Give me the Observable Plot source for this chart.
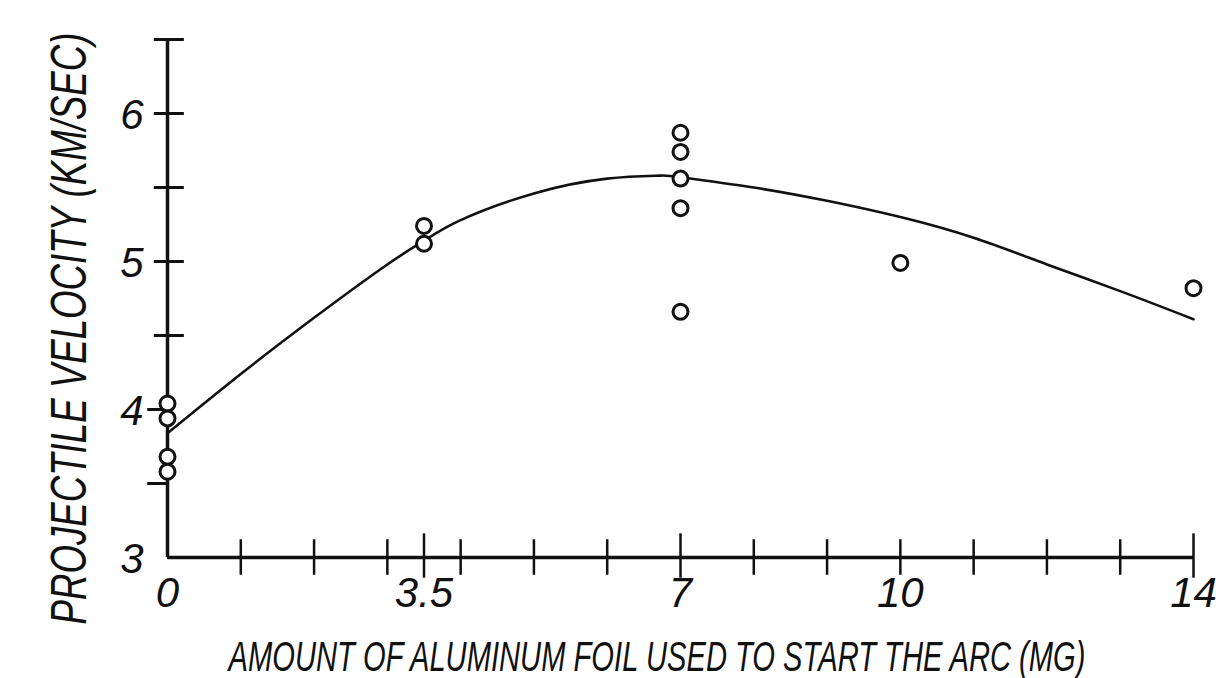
<!DOCTYPE html>
<html><head><meta charset="utf-8">
<script src="https://cdn.jsdelivr.net/npm/d3@7"></script>
<script src="https://cdn.jsdelivr.net/npm/@observablehq/plot@0.6"></script>
<style>html,body{margin:0;padding:0;background:#fff;overflow:hidden}</style>
</head><body><div id="chart"></div>
<script>
// Measured points
const foilMg   = [0, 0, 0, 0, 3.5, 3.5, 7, 7, 7, 7, 7, 10, 14];
const velocity = [4.04, 3.94, 3.68, 3.58, 5.24, 5.12, 5.87, 5.74, 5.56, 5.36, 4.66, 4.99, 4.82];
// Fitted curve
const curveX = [0, 1, 2, 3, 3.5, 4, 5, 6, 6.7, 7, 8, 9, 10, 11, 12, 13, 14];
const curveY = [3.84, 4.24, 4.62, 4.98, 5.14, 5.28, 5.46, 5.56, 5.58, 5.57, 5.5, 5.41, 5.3, 5.16, 4.98, 4.8, 4.61];
// Ticks
const xTicks = [1, 2, 3, 3.5, 4, 5, 6, 7, 8, 9, 10, 11, 12, 13, 14];
const xMajorTicks = [3.5, 7, 14];
const xTickLabels = ["0", "3.5", "7", "10", "14"];
const xTickLabelValues = [0, 3.5, 7, 10, 14];
const yTicks = [4.5, 5, 5.5, 6, 6.5];
const yLeftTicks = [3.5, 4];
const yTickLabels = ["3", "4", "5", "6"];
const yTickLabelValues = [3, 4, 5, 6];
const xTitle = "AMOUNT OF ALUMINUM FOIL USED TO START THE ARC (MG)";
const yTitle = "PROJECTILE VELOCITY (KM/SEC)";

const points = foilMg.map((x, i) => ({x, y: velocity[i]}));
const curve = curveX.map((x, i) => ({x, y: curveY[i]}));
const ink = "#111";
const font = "'Liberation Sans Narrow', 'Liberation Sans', sans-serif";

const chart = Plot.plot({
  width: 1219, height: 678,
  marginLeft: 167, marginRight: 26, marginTop: 39, marginBottom: 121,
  x: {domain: [0, 14], axis: null},
  y: {domain: [3, 6.5], axis: null},
  style: {background: "#fff", fontFamily: font},
  marks: [
    // axes lines
    Plot.ruleX([0], {x: d => d, y1: 3, y2: 6.5, stroke: ink, strokeWidth: 3.5}),
    Plot.ruleY([3], {y: d => d, x1: 0, x2: 14, stroke: ink, strokeWidth: 3.5}),
    // y ticks
    Plot.ruleY(yTicks, {y: d => d, x1: -0.18, x2: 0.23, stroke: ink, strokeWidth: 3}),
    Plot.ruleY(yLeftTicks, {y: d => d, x1: -0.27, x2: 0.02, stroke: ink, strokeWidth: 3}),
    // x ticks
    Plot.ruleX(xTicks.filter(d => !xMajorTicks.includes(d)), {x: d => d, y1: 2.88, y2: 3.12, stroke: ink, strokeWidth: 2.5}),
    Plot.ruleX(xMajorTicks, {x: d => d, y1: 2.86, y2: 3.16, stroke: ink, strokeWidth: 2.5}),
    // tick labels
    Plot.text(yTickLabelValues, {x: 0, y: d => d, text: (d, i) => yTickLabels[i], dx: -24, dy: 2, textAnchor: "end", fontSize: 42, fontStyle: "italic", fill: ink}),
    Plot.text(xTickLabelValues, {x: d => d, y: 3, text: (d, i) => xTickLabels[i], dy: 36, fontSize: 42, fontStyle: "italic", fill: ink}),
    // curve
    Plot.line(curve, {x: "x", y: "y", curve: "natural", stroke: ink, strokeWidth: 2.6}),
    // points
    Plot.dot(points, {x: "x", y: "y", r: 7.5, stroke: ink, strokeWidth: 3, fill: "#fff"}),
    // titles (anchored at their start; tall narrow lettering made by a vertical stretch below)
    Plot.text([xTitle], {frameAnchor: "bottom", textAnchor: "start", dx: -452, dy: 113, fontSize: 33, fontStyle: "italic", fill: ink}),
    Plot.text([yTitle], {frameAnchor: "left", textAnchor: "start", rotate: -90, dx: -97, dy: 326, fontSize: 37, fontStyle: "italic", fill: ink})
  ]
});
document.getElementById("chart").appendChild(chart);
function stretch(el, len, s) {
  const sel = d3.select(el).attr("text-anchor", "start").attr("textLength", len).attr("lengthAdjust", "spacingAndGlyphs");
  const tr = sel.attr("transform");
  if (tr) sel.attr("transform", tr + ` scale(1,${s})`);
  else {
    const x = +sel.attr("x") || 0, y = +sel.attr("y") || 0;
    sel.attr("transform", `translate(${x},${y}) scale(1,${s}) translate(${-x},${-y})`);
  }
}
d3.select(chart).selectAll("text").each(function() {
  const t = this.textContent;
  if (t === xTitle) stretch(this, 857, 1.3);
  if (t === yTitle) stretch(this, 592, 1.35);
});
</script>
</body></html>
